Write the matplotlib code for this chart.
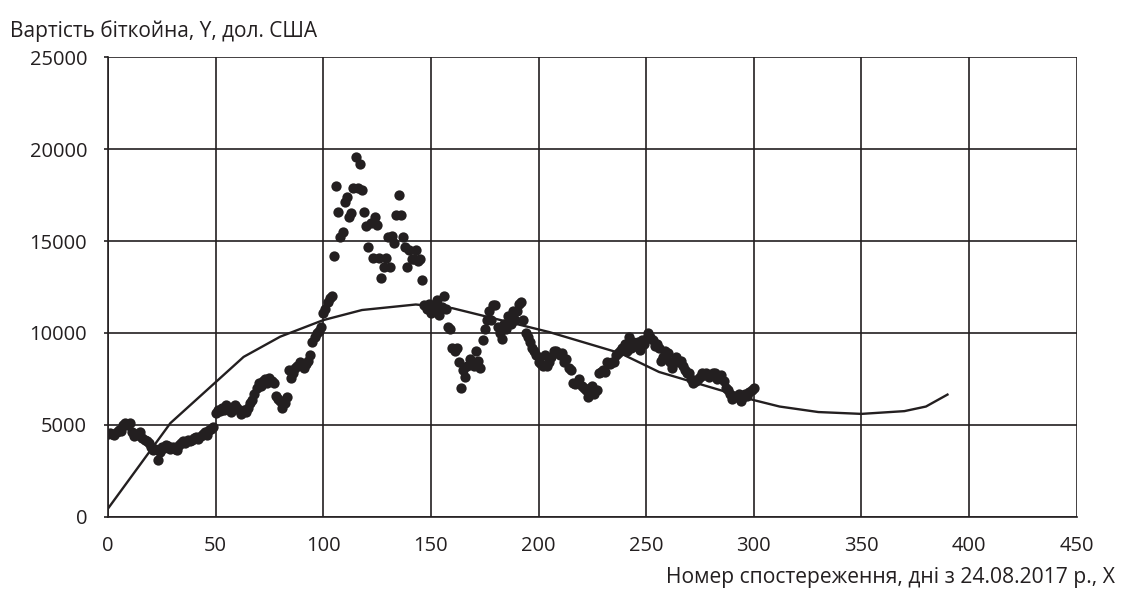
import numpy as np
import matplotlib
matplotlib.use("Agg")
import matplotlib.pyplot as plt

plt.rcParams['font.family'] = ['Open Sans', 'DejaVu Sans']

# -------------------------
# Data
# -------------------------
# bitcoin price by observation day (day 0 .. 300)
price = [
    4500, 4560, 4500, 4450, 4600, 4700, 4650, 5000, 5100, 5000,
    5100, 4600, 4400, 4500, 4450, 4600, 4300, 4200, 4100, 4000,
    3800, 3640, 3700, 3100, 3500, 3800, 3750, 3900, 3850, 3700,
    3800, 3700, 3640, 3900, 4000, 4100, 4000, 4200, 4150, 4200,
    4300, 4350, 4250, 4400, 4500, 4600, 4450, 4700, 4800, 4900,
    5650, 5800, 5750, 5900, 5800, 6100, 5900, 5700, 6000, 6100,
    5900, 5800, 5600, 5800, 5700, 5900, 6200, 6350, 6700, 7000,
    7300, 7100, 7400, 7500, 7300, 7550, 7400, 7300, 6600, 6400,
    6300, 5900, 6200, 6500, 8000, 7550, 7800, 8100, 8200, 8400,
    8300, 8100, 8300, 8500, 8800, 9500, 9800, 10000, 10100, 10300,
    11100, 11300, 11700, 11900, 12000, 14200, 18000, 16600, 15200, 15500,
    17100, 17400, 16300, 16500, 17900, 19600, 17900, 19200, 17800, 16600,
    15800, 14700, 16000, 14100, 16300, 15900, 14100, 13000, 13600, 14100,
    15200, 13600, 15300, 14900, 16400, 17500, 16400, 15200, 14700, 13600,
    14500, 14000, 14000, 14500, 13900, 14000, 12900, 11500, 11300, 11600,
    11100, 11500, 11200, 11800, 11000, 11400, 12000, 11300, 10300, 10200,
    9200, 9000, 9200, 8400, 7000, 8000, 7600, 8200, 8600, 8300,
    8200, 9000, 8500, 8100, 9600, 10200, 10700, 11200, 10700, 11500,
    11500, 10300, 10000, 9700, 10500, 10200, 10900, 10500, 11200, 10700,
    11200, 11600, 11700, 10700, 10000, 9800, 9500, 9200, 9000, 8800,
    8400, 8300, 8200, 8800, 8200, 8400, 8700, 9000, 9000, 8900,
    8800, 8900, 8400, 8600, 8100, 8000, 7300, 7200, 7300, 7500,
    7100, 7000, 6900, 6500, 7000, 7100, 6700, 6900, 7800, 7900,
    8000, 7900, 8400, 8300, 8400, 8400, 8800, 8900, 9000, 9200,
    9400, 9000, 9800, 9200, 9500, 9300, 9500, 9100, 9600, 9400,
    9700, 10000, 9800, 9600, 9300, 9400, 9200, 8500, 8700, 9000,
    8900, 8400, 8100, 8500, 8700, 8400, 8500, 8200, 8000, 7800,
    7800, 7500, 7300, 7400, 7500, 7600, 7800, 7700, 7800, 7600,
    7700, 7800, 7800, 7500, 7600, 7700, 7400, 7000, 6900, 6700,
    6400, 6600, 6500, 6700, 6300, 6500, 6700, 6600, 6800, 6900,
    7000,
]
days = np.arange(len(price))

# polynomial trend line (with forecast), read at its break points
trend_days = [0, 29, 63, 80, 100, 118, 143, 160, 205, 238, 256, 300,
              312, 330, 350, 370, 380, 390]
trend_vals = [450, 5100, 8700, 9800, 10700, 11250, 11550, 11350, 10050,
              8900, 7880, 6350, 6000, 5700, 5600, 5750, 6000, 6650]

x_ticks = [0, 50, 100, 150, 200, 250, 300, 350, 400, 450]
y_ticks = [0, 5000, 10000, 15000, 20000, 25000]

ink = '#231f20'

# -------------------------
# Plot
# -------------------------
fig = plt.figure(figsize=(11.25, 5.9), dpi=100)
ax = fig.add_axes([0.096, 0.124, 0.861, 0.779])

ax.scatter(days, price, s=55, color=ink, linewidths=0, zorder=3)
ax.plot(trend_days, trend_vals, color=ink, lw=1.7, zorder=4)

ax.set_xlim(0, 450)
ax.set_ylim(0, 25000)
ax.set_xticks(x_ticks)
ax.set_yticks(y_ticks)
ax.grid(True, color=ink, lw=1.2)
ax.set_axisbelow(True)

for side in ['top', 'right']:
    ax.spines[side].set_visible(False)
for side in ['left', 'bottom']:
    ax.spines[side].set_color(ink)
    ax.spines[side].set_linewidth(1.2)

ax.tick_params(axis='x', length=0, pad=14, labelsize=14.5, colors=ink)
ax.tick_params(axis='y', length=3, width=1.2, pad=12, labelsize=14.5, colors=ink)

fig.text(0.009, 0.948, 'Вартість біткойна, Y, дол. США', fontsize=15,
         color=ink, ha='left', va='center')
fig.text(0.991, 0.022, 'Номер спостереження, дні з 24.08.2017 р., Х',
         fontsize=15.2, color=ink, ha='right', va='center')

fig.savefig('out.png', dpi=100)
